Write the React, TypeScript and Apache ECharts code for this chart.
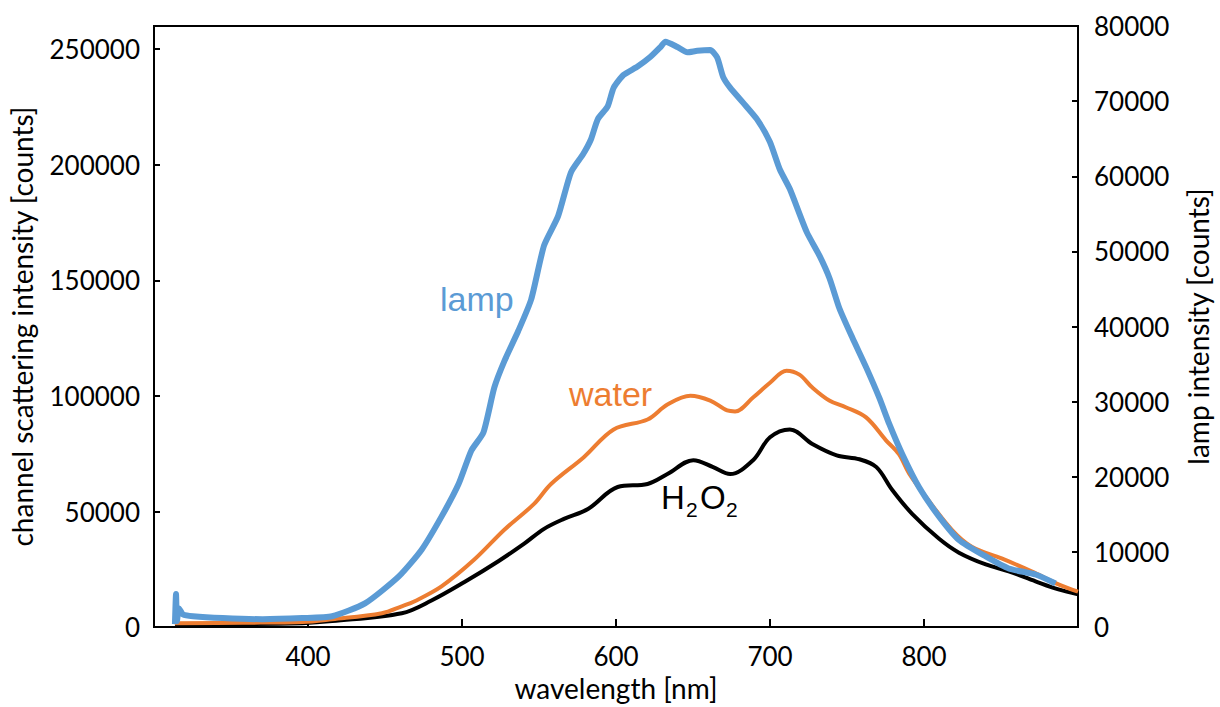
import React, { useEffect, useRef } from "react";
import * as echarts from "echarts";

// lamp spectrum (right axis, counts)
const lampNm = [313.6, 314.3, 314.9, 316.2, 318.8, 325.3, 344.6, 370.5, 396.3, 415.7, 437.0, 459.0, 473.8, 486.7, 497.7, 506.1, 513.9, 521.0, 527.5, 536.5, 544.9, 553.3, 562.4, 570.7, 578.5, 583.7, 588.2, 594.6, 598.5, 605.0, 614.0, 622.4, 628.9, 632.1, 639.9, 646.3, 652.8, 661.2, 665.7, 669.6, 674.1, 682.5, 691.5, 699.9, 706.4, 712.9, 723.8, 732.2, 738.7, 745.1, 753.5, 762.6, 771.0, 777.5, 785.9, 796.8, 809.8, 822.7, 840.1, 855.0, 872.4, 885.4];
const lampCounts = [400, 4400, 800, 2500, 1700, 1450, 1200, 1050, 1200, 1450, 3150, 6750, 10300, 14700, 19000, 23500, 25900, 31900, 35400, 39400, 43600, 50800, 54700, 60500, 62900, 64900, 67600, 69300, 71800, 73500, 74600, 75900, 77200, 77900, 77200, 76500, 76700, 76800, 75800, 73200, 71800, 69800, 67600, 64600, 60900, 58300, 52600, 49400, 46400, 42400, 38500, 34500, 30500, 27000, 23000, 18600, 14700, 11600, 9400, 7800, 7000, 5800];

// water channel scattering (left axis)
const waterNm = [313.6, 357.6, 396.3, 415.7, 448.0, 460.9, 469.3, 486.7, 508.0, 527.5, 546.8, 557.8, 579.1, 598.5, 620.5, 633.4, 648.3, 661.2, 672.2, 677.3, 689.0, 700.0, 710.7, 719.1, 727.5, 738.5, 749.5, 762.4, 775.3, 783.7, 790.2, 801.3, 818.1, 831.0, 850.4, 869.8, 887.3, 900.0];
const waterCounts = [1700, 1900, 2200, 3400, 6000, 9000, 11200, 17600, 29200, 42100, 53300, 61900, 73500, 85500, 89800, 96300, 100100, 98000, 93700, 93300, 99300, 105700, 110900, 109200, 103600, 98000, 95000, 90700, 80800, 74800, 66600, 56300, 42100, 34800, 29700, 24100, 18500, 15300];

// H2O2 channel scattering (left axis)
const h2o2Nm = [313.6, 357.6, 396.3, 415.7, 460.9, 480.2, 501.6, 523.6, 540.4, 553.3, 566.2, 581.8, 601.1, 620.5, 633.4, 650.2, 663.1, 674.1, 689.0, 700.0, 712.9, 727.8, 743.3, 758.1, 769.1, 779.4, 792.3, 809.8, 822.7, 840.1, 855.0, 872.4, 887.3, 900.0];
const h2o2Counts = [1300, 1300, 1700, 2600, 6000, 11500, 19500, 28500, 36100, 42500, 46800, 51100, 60600, 61900, 66200, 72200, 69200, 66200, 72200, 82100, 85500, 79100, 74300, 72600, 69200, 59300, 49000, 38200, 32200, 27100, 24100, 19800, 16300, 14200];

const xLabels = [400, 500, 600, 700, 800];

const zip = (xs: number[], ys: number[]) => xs.map((x, i) => [x, ys[i]]);

const FONT = "Lato";
const LABEL_FONT = "Liberation Sans";
const TICK_SIZE = 26;
const TITLE_SIZE = 28;

export default function App() {
  const ref = useRef<HTMLDivElement>(null);
  useEffect(() => {
    document.body.style.margin = "0";
    const chart = echarts.init(ref.current!, undefined, { renderer: "svg" });
    const axisLine = { show: true, lineStyle: { color: "#000", width: 2 } };
    const titleStyle = { fontFamily: FONT, fontSize: TITLE_SIZE, color: "#000" };
    const tickLabel = { fontFamily: FONT, fontSize: TICK_SIZE, color: "#000" };
    chart.setOption({
      animation: false,
      backgroundColor: "#fff",
      grid: {
        left: 153,
        right: 141,
        top: 26,
        bottom: 76,
        show: true,
        borderColor: "#000",
        borderWidth: 2,
        containLabel: false,
      },
      xAxis: {
        type: "value",
        min: 300,
        max: 900,
        interval: 100,
        name: "wavelength [nm]",
        nameLocation: "middle",
        nameGap: 44,
        nameTextStyle: titleStyle,
        axisLine,
        axisTick: { show: true, inside: true, length: 8, lineStyle: { color: "#000", width: 2 } },
        axisLabel: {
          ...tickLabel,
          margin: 16,
          formatter: (v: number) => (xLabels.includes(v) ? String(v) : ""),
        },
        splitLine: { show: false },
      },
      yAxis: [
        {
          type: "value",
          min: 0,
          max: 260000,
          interval: 50000,
          position: "left",
          name: "channel scattering intensity [counts]",
          nameLocation: "middle",
          nameGap: 118,
          nameRotate: 90,
          nameTextStyle: titleStyle,
          axisLine,
          axisTick: { show: true, inside: true, length: 6, lineStyle: { color: "#000", width: 2 } },
          axisLabel: {
            ...tickLabel,
            margin: 14,
            formatter: (v: number) => (v % 50000 === 0 ? String(v) : ""),
          },
          splitLine: { show: false },
        },
        {
          type: "value",
          min: 0,
          max: 80000,
          interval: 10000,
          position: "right",
          name: "lamp intensity [counts]",
          nameLocation: "middle",
          nameGap: 106,
          nameRotate: 90,
          nameTextStyle: titleStyle,
          axisLine,
          axisTick: { show: true, inside: true, length: 6, lineStyle: { color: "#000", width: 2 } },
          axisLabel: { ...tickLabel, margin: 16, formatter: (v: number) => String(v) },
          splitLine: { show: false },
        },
      ],
      series: [
        {
          name: "H2O2",
          type: "line",
          yAxisIndex: 0,
          data: zip(h2o2Nm, h2o2Counts),
          showSymbol: false,
          smooth: 0.35,
          lineStyle: { color: "#000", width: 4 },
          z: 2,
        },
        {
          name: "water",
          type: "line",
          yAxisIndex: 0,
          data: zip(waterNm, waterCounts),
          showSymbol: false,
          smooth: 0.35,
          lineStyle: { color: "#ED7D31", width: 4 },
          z: 3,
        },
        {
          name: "lamp",
          type: "line",
          yAxisIndex: 1,
          data: zip(lampNm, lampCounts),
          showSymbol: false,
          smooth: 0.2,
          lineStyle: { color: "#5B9BD5", width: 6 },
          z: 4,
        },
      ],
      graphic: [
        { type: "text", left: 440, top: 282, style: { text: "lamp", fill: "#5B9BD5", fontFamily: LABEL_FONT, fontSize: 34 } },
        { type: "text", left: 569, top: 377, style: { text: "water", fill: "#ED7D31", fontFamily: LABEL_FONT, fontSize: 34 } },
        { type: "text", left: 661, top: 481, style: { text: "H", fill: "#000", fontFamily: LABEL_FONT, fontSize: 33 } },
        { type: "text", left: 686, top: 499, style: { text: "2", fill: "#000", fontFamily: LABEL_FONT, fontSize: 21 } },
        { type: "text", left: 700, top: 481, style: { text: "O", fill: "#000", fontFamily: LABEL_FONT, fontSize: 33 } },
        { type: "text", left: 726, top: 499, style: { text: "2", fill: "#000", fontFamily: LABEL_FONT, fontSize: 21 } },
      ],
    });
    return () => chart.dispose();
  }, []);
  return <div ref={ref} style={{ width: 1220, height: 707 }} />;
}
